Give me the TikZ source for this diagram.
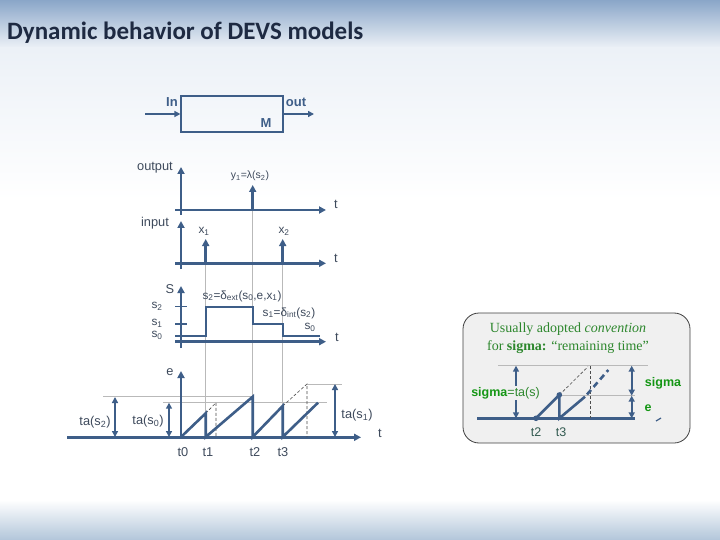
\documentclass[tikz,border=0pt]{standalone}
\usepackage{fontspec}
\setmainfont{Liberation Sans}
\newfontfamily\titlefont{Carlito}
\newfontfamily\serifface{Liberation Serif}
\usetikzlibrary{arrows.meta}
\definecolor{ln}{RGB}{62,94,136}
\definecolor{lbl}{RGB}{62,74,92}
\definecolor{gl}{RGB}{185,185,185}
\definecolor{grn}{RGB}{45,135,45}
\definecolor{bgrn}{RGB}{20,150,20}
\definecolor{tgrn}{RGB}{50,90,80}
\definecolor{topA}{RGB}{138,166,200}
\definecolor{topB}{RGB}{236,241,247}
\definecolor{botB}{RGB}{178,198,218}
\definecolor{panel}{RGB}{240,240,240}
\definecolor{ttl}{RGB}{30,42,66}
\tikzset{
  axis/.style={draw=ln, line width=2.6pt, -{Triangle[length=7pt,width=7pt]}},
  saw/.style={draw=ln, line width=2.6pt},
  traj/.style={draw=ln, line width=2pt},
  tick/.style={draw=ln, line width=1.2pt},
  guide/.style={draw=gl, line width=0.8pt},
  thindash/.style={draw=black!70, line width=0.6pt, dash pattern=on 3pt off 2pt},
  dbl/.style={draw=ln, line width=2pt, {Triangle[length=6pt,width=6pt]}-{Triangle[length=6pt,width=6pt]}},
  lab/.style={text=lbl, font=\fontsize{12.8}{15}\selectfont, inner sep=0pt},
  slab/.style={text=lbl, font=\fontsize{11.8}{14}\selectfont, inner sep=0pt},
  blab/.style={text=ln, font=\fontsize{13}{15}\selectfont\bfseries, inner sep=0pt},
  glab/.style={text=bgrn, font=\fontsize{12.5}{14}\selectfont\bfseries, inner sep=0pt},
}
\begin{document}
\begin{tikzpicture}[x=1pt, y=-1pt]
\useasboundingbox (0,0) rectangle (720,540);
% background
\fill[top color=topA, bottom color=topB] (0,0) rectangle (720,48);
\fill[top color=topB, bottom color=white] (0,48) rectangle (720,200);
\fill[white] (0,200) rectangle (720,500);
\fill[top color=white, bottom color=botB] (0,500) rectangle (720,540);
% title
\node[anchor=west, text=ttl, font=\fontsize{25}{29}\titlefont\bfseries, inner sep=0pt] (title) at (7,33) {Dynamic behavior of DEVS models};

% block M
\node[draw=ln, line width=1.2pt, minimum width=102pt, minimum height=36pt, inner sep=0pt] (blk) at (232,114) {};
\coordinate (inS) at (145,114);
\coordinate (outE) at (314,114);
\draw[draw=ln, line width=2pt, -{Triangle[length=6pt,width=6pt]}] (inS) -- (blk.west);
\draw[draw=ln, line width=2pt, -{Triangle[length=6pt,width=6pt]}] (blk.east) -- (outE);
\node[blab] (inl) at (172,102) {In};
\node[blab] (outl) at (296,102) {out};
\node[blab] (ml) at (266,123) {M};

% guide lines
\coordinate (g1a) at (205.7,263.3); \coordinate (g1b) at (205.7,413.3);
\coordinate (g2a) at (252.7,210);   \coordinate (g2b) at (252.7,396.7);
\coordinate (g3a) at (282.7,263.3); \coordinate (g3b) at (282.7,406);
\draw[guide] (g1a) -- (g1b);
\draw[guide] (g2a) -- (g2b);
\draw[guide] (g3a) -- (g3b);
\coordinate (h1a) at (103,396.7); \coordinate (h1b) at (252.7,396.7);
\coordinate (h2a) at (163,402.7); \coordinate (h2b) at (327,402.7);
\coordinate (h3a) at (307,384);   \coordinate (h3b) at (342,384);
\draw[guide] (h1a) -- (h1b);
\draw[guide] (h2a) -- (h2b);
\draw[guide] (h3a) -- (h3b);

% output plot
\coordinate (oy0) at (181,215); \coordinate (oy1) at (181,167);
\coordinate (ox0) at (175,210); \coordinate (ox1) at (326,210);
\draw[axis] (oy0) -- (oy1);
\draw[axis] (ox0) -- (ox1);
\coordinate (y1a) at (252.7,210); \coordinate (y1b) at (252.7,185);
\draw[axis] (y1a) -- (y1b);
\node[lab] (outputl) at (155,168) {output};
\node[lab] (t1l) at (336,204) {t};
\node[text=lbl, font=\fontsize{10.5}{12}\selectfont, inner sep=0pt] (y1l) at (250,176) {y\textsubscript{1}=λ(s\textsubscript{2})};

% input plot
\coordinate (iy0) at (181,269); \coordinate (iy1) at (181,221);
\coordinate (ix0) at (175,263.3); \coordinate (ix1) at (326,263.3);
\draw[axis] (iy0) -- (iy1);
\draw[axis] (ix0) -- (ix1);
\coordinate (x1a) at (205.7,263.3); \coordinate (x1b) at (205.7,239);
\coordinate (x2a) at (282.7,263.3); \coordinate (x2b) at (282.7,239);
\draw[axis] (x1a) -- (x1b);
\draw[axis] (x2a) -- (x2b);
\node[lab] (inputl) at (155,223) {input};
\node[lab] (t2l) at (336,258) {t};
\node[slab] (x1l) at (204,231) {x\textsubscript{1}};
\node[slab] (x2l) at (284,231) {x\textsubscript{2}};

% state plot
\coordinate (sy0) at (181,348); \coordinate (sy1) at (181,286);
\coordinate (sx0) at (175,341.7); \coordinate (sx1) at (326,341.7);
\draw[axis] (sy0) -- (sy1);
\draw[axis] (sx0) -- (sx1);
\foreach \yy/\nm in {306.7/a,324/b,336/c}{
  \coordinate (tk\nm0) at (175,\yy); \coordinate (tk\nm1) at (187,\yy);
  \draw[tick] (tk\nm0) -- (tk\nm1);
}
\draw[traj] (181,336) -- (205.7,336) -- (205.7,306.7) -- (252.7,306.7) -- (252.7,324) -- (282.7,324) -- (282.7,336) -- (320,336);
\node[lab] (Sl) at (170,289) {S};
\node[slab] (s2l) at (157,306) {s\textsubscript{2}};
\node[slab] (s1l) at (157,323) {s\textsubscript{1}};
\node[slab] (s0l) at (157,335) {s\textsubscript{0}};
\node[lab] (t3l) at (337,337) {t};
\node[slab] (dext) at (242,296) {s\textsubscript{2}=δ\textsubscript{ext}(s\textsubscript{0},e,x\textsubscript{1})};
\node[slab] (dint) at (289,313) {s\textsubscript{1}=δ\textsubscript{int}(s\textsubscript{2})};
\node[slab] (s0r) at (310,327) {s\textsubscript{0}};

% e plot
\coordinate (ey0) at (181,437); \coordinate (ey1) at (181,371);
\coordinate (ex0) at (67,437.3); \coordinate (ex1) at (361,437.3);
\draw[axis] (ey0) -- (ey1);
\draw[axis] (ex0) -- (ex1);
\draw[thindash] (205.7,413.3) -- (216,402.7) -- (216,437);
\draw[thindash] (282.7,406) -- (307,384) -- (307,437);
\draw[saw] (181,437) -- (205.7,413.3) -- (205.7,437) -- (252.7,396.7) -- (252.7,437) -- (282.7,406) -- (282.7,437) -- (318,402.7);
\coordinate (da0) at (115,437); \coordinate (da1) at (115,397);
\coordinate (db0) at (169,437); \coordinate (db1) at (169,402.7);
\coordinate (dc0) at (335,437); \coordinate (dc1) at (335,384);
\draw[dbl] (da0) -- (da1);
\draw[dbl] (db0) -- (db1);
\draw[dbl] (dc0) -- (dc1);
\node[lab] (el) at (170,372) {e};
\node[lab] (t4l) at (380,433) {t};
\node[lab] (tas2) at (95,422) {ta(s\textsubscript{2})};
\node[lab] (tas0) at (148,421) {ta(s\textsubscript{0})};
\node[lab] (tas1) at (357,415) {ta(s\textsubscript{1})};
\node[lab] (t0n) at (183,452) {t0};
\node[lab] (t1n) at (208,452) {t1};
\node[lab] (t2n) at (255,452) {t2};
\node[lab] (t3n) at (283,452) {t3};

% right panel
\node[draw=black!75, line width=0.8pt, fill=panel, rounded corners=16pt, minimum width=227pt, minimum height=130pt, inner sep=0pt] (panel) at (576.5,378) {};
\node[text=grn, font=\fontsize{14}{16}\serifface, inner sep=0pt] (cv1) at (568,329) {Usually adopted \textit{convention}};
\node[text=grn, font=\fontsize{14}{16}\serifface, inner sep=0pt] (cv2) at (568,347) {for \textbf{sigma:} “remaining time”};
\coordinate (pa0) at (477,418.3); \coordinate (pa1) at (635,418.3);
\draw[saw] (pa0) -- (pa1);
\coordinate (pk0) at (656,421); \coordinate (pk1) at (661,418);
\draw[draw=ln, line width=1.2pt] (pk0) -- (pk1);
\coordinate (pg1a) at (498,365.7); \coordinate (pg1b) at (648,365.7);
\coordinate (pg2a) at (560,395.7); \coordinate (pg2b) at (635,395.7);
\draw[guide] (pg1a) -- (pg1b);
\draw[guide] (pg2a) -- (pg2b);
\draw[thindash] (559.3,395) -- (588,366.7);
\draw[thindash] (590,366) -- (590,418);
\draw[saw] (536,418.3) -- (559.3,395) -- (559.3,418.3) -- (585,396.7);
\draw[saw, dash pattern=on 6pt off 4pt] (587,394.5) -- (608.3,370);
\fill[ln] (536,418.3) circle (2.8pt);
\fill[ln] (559.3,395) circle (2.8pt);
\coordinate (sa0) at (516,418.3); \coordinate (sa1) at (516,365.7);
\draw[dbl] (sa0) -- (sa1);
\coordinate (sb0) at (631.7,395.7); \coordinate (sb1) at (631.7,365.7);
\coordinate (sc0) at (631.7,418.3); \coordinate (sc1) at (631.7,395.7);
\draw[dbl] (sb0) -- (sb1);
\draw[dbl] (sc0) -- (sc1);
\node[fill=panel, inner sep=1pt, font=\fontsize{12.5}{14}\selectfont, text=bgrn] (sigl) at (505.5,393.3) {\textbf{sigma}\textcolor{grn}{=ta(s)}};
\node[glab] (sigr) at (663,383) {sigma};
\node[glab] (er) at (648,408) {e};
\node[text=tgrn, font=\fontsize{12.5}{14}\selectfont, inner sep=0pt] (pt2) at (536,432) {t2};
\node[text=tgrn, font=\fontsize{12.5}{14}\selectfont, inner sep=0pt] (pt3) at (561,432) {t3};
\end{tikzpicture}
\end{document}
